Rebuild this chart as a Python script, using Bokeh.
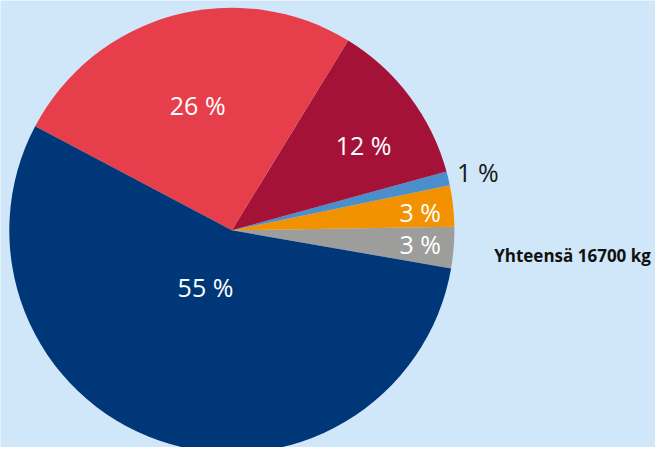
import math
from bokeh.plotting import figure
from bokeh.models import Range1d, ColumnDataSource
from bokeh.core.properties import value
from bokeh.embed import file_html
from bokeh.resources import INLINE

# ---- data ----
categories = ["Harmaa", "Oranssi", "Vaaleansininen", "Viininpunainen", "Punainen", "Tummansininen"]
shares = [3, 3, 1, 12, 26, 55]          # percent
labels = ["3 %", "3 %", "1 %", "12 %", "26 %", "55 %"]
colors = ["#9d9d9c", "#f39200", "#4a8fcc", "#a51237", "#e63e4b", "#003778"]
label_colors = ["white", "white", "#1a1a1a", "white", "white", "white"]
total_text = "Yhteensä 16700 kg"

# ---- layout (coordinates in reference-picture pixels) ----
W, H = 655, 447
RW, RH = 671, 463
cx_px, cy_px, R = 237, 238, 228
start_deg = -9.9
label_px = [(430, 252), (430, 219), (489, 178), (372, 150), (202, 108), (210, 297)]
total_px = (586, 264)

def to_data(xw, yw):
    return xw, RH - yw

tot = float(sum(shares))
starts, ends = [], []
a = math.radians(start_deg)
for s in shares:
    starts.append(a)
    a += 2 * math.pi * s / tot
    ends.append(a)

src = ColumnDataSource(dict(cat=categories, start=starts, end=ends, color=colors))

bg = "#d0e7f9"
p = figure(width=W, height=H, output_backend="svg", toolbar_location=None,
           x_range=Range1d(0, RW), y_range=Range1d(0, RH), min_border=0,
           background_fill_color=bg, border_fill_color=bg)
p.axis.visible = False
p.grid.visible = False
p.outline_line_color = None

cx, cy = to_data(cx_px, cy_px)
p.wedge(x=cx, y=cy, radius=R, start_angle="start", end_angle="end",
        fill_color="color", line_color=None, source=src)

lx, ly = zip(*[to_data(*q) for q in label_px])
lsrc = ColumnDataSource(dict(x=list(lx), y=list(ly), text=labels, c=label_colors))
p.text(x="x", y="y", text="text", text_color="c", source=lsrc,
       text_font=value("Open Sans"), text_font_size="25px",
       text_align="center", text_baseline="middle")

tx, ty = to_data(*total_px)
p.text(x=[tx], y=[ty], text=[total_text], text_color="#111111",
       text_font=value("Open Sans"), text_font_style="bold", text_font_size="17px",
       text_align="center", text_baseline="middle")

html = file_html(p, INLINE)
html = html.replace("<body>", '<body style="background:%s">' % bg, 1)
open("out.html", "w").write(html)
